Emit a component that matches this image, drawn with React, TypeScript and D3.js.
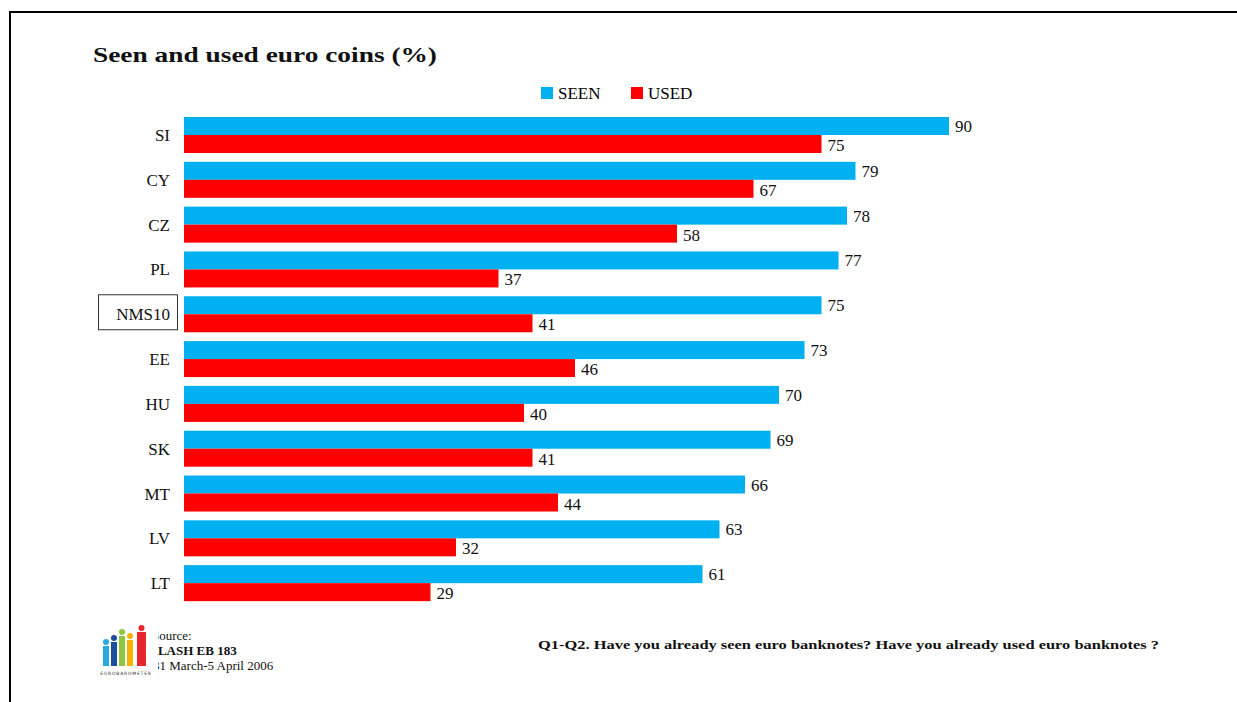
import React from "react";
import * as d3 from "d3";

const categories = ["SI", "CY", "CZ", "PL", "NMS10", "EE", "HU", "SK", "MT", "LV", "LT"];
const seen = [90, 79, 78, 77, 75, 73, 70, 69, 66, 63, 61];
const used = [75, 67, 58, 37, 41, 46, 40, 41, 44, 32, 29];
const seriesNames = ["SEEN", "USED"];
const seriesColors = ["#00B0F0", "#FF0000"];

const W = 1237;
const H = 702;

export default function App() {
  const x = d3.scaleLinear().domain([0, 90]).range([184, 949]);
  const y = d3.scaleBand().domain(categories).range([117, 601]).paddingInner(0.2).paddingOuter(0);
  const bw = 18;
  const serif = "'Liberation Serif', 'DejaVu Serif', serif";
  const logoBars = [
    { x: 103, h: 20, c: "#29ABE2" },
    { x: 111, h: 24, c: "#1B4F9C" },
    { x: 119, h: 30, c: "#8DC63F" },
    { x: 127, h: 26, c: "#F7B500" },
    { x: 137, h: 34, c: "#E8262B" },
  ];
  return (
    <svg width={W} height={H} style={{ position: "absolute", left: 0, top: 0, background: "#fff" }}>
      <rect x={0} y={0} width={W} height={H} fill="#fff" />
      <line x1={9} y1={12} x2={W} y2={12} stroke="#000" strokeWidth={2} />
      <line x1={10} y1={11} x2={10} y2={H} stroke="#000" strokeWidth={2} />
      <text x={93} y={62} fontFamily={serif} fontWeight="bold" fontSize={22} fill="#111" textLength={344} lengthAdjust="spacingAndGlyphs">
        Seen and used euro coins (%)
      </text>
      {seriesNames.map((s, i) => (
        <g key={s} transform={`translate(${541 + i * 90},87)`}>
          <rect width={12} height={12} fill={seriesColors[i]} />
          <text x={17} y={11.5} fontFamily={serif} fontSize={17} fill="#000">{s}</text>
        </g>
      ))}
      {categories.map((c, i) => {
        const y0 = y(c)!;
        return (
          <g key={c}>
            <rect x={x(0)} y={y0} width={x(seen[i]) - x(0)} height={bw} fill={seriesColors[0]} />
            <rect x={x(0)} y={y0 + bw} width={x(used[i]) - x(0)} height={bw} fill={seriesColors[1]} />
            <text x={x(seen[i]) + 6} y={y0 + bw / 2 + 6} fontFamily={serif} fontSize={17} fill="#111">{seen[i]}</text>
            <text x={x(used[i]) + 6} y={y0 + bw * 1.5 + 7} fontFamily={serif} fontSize={17} fill="#111">{used[i]}</text>
            <text x={170} y={y0 + bw + 6} textAnchor="end" fontFamily={serif} fontSize={17} fill="#111">{c}</text>
            {c === "NMS10" && (
              <rect x={98.5} y={y0 - 1.5} width={79} height={35} fill="none" stroke="#333" strokeWidth={1} />
            )}
          </g>
        );
      })}
      <text fontFamily={serif} fontSize={13} fill="#111">
        <tspan x={152} y={640}>Source:</tspan>
        <tspan x={150} y={655} fontWeight="bold">FLASH EB 183</tspan>
        <tspan x={153} y={670}>31 March-5 April 2006</tspan>
      </text>
      <rect x={95} y={625} width={63} height={55} fill="#fff" />
      {logoBars.map((b, i) => (
        <g key={i}>
          <rect x={b.x} y={666 - b.h} width={i === 4 ? 9 : 6} height={b.h} fill={b.c} />
          <circle cx={b.x + (i === 4 ? 4.5 : 3)} cy={666 - b.h - 4} r={3} fill={b.c} />
        </g>
      ))}
      <text x={126} y={675} textAnchor="middle" fontFamily="'DejaVu Sans', sans-serif" fontSize={4.5} letterSpacing={0.8} fill="#333">EUROBAROMETER</text>
      <text x={538} y={649} fontFamily={serif} fontWeight="bold" fontSize={13} fill="#111" textLength={621} lengthAdjust="spacingAndGlyphs">
        Q1-Q2. Have you already seen euro banknotes? Have you already used  euro banknotes ?
      </text>
    </svg>
  );
}
